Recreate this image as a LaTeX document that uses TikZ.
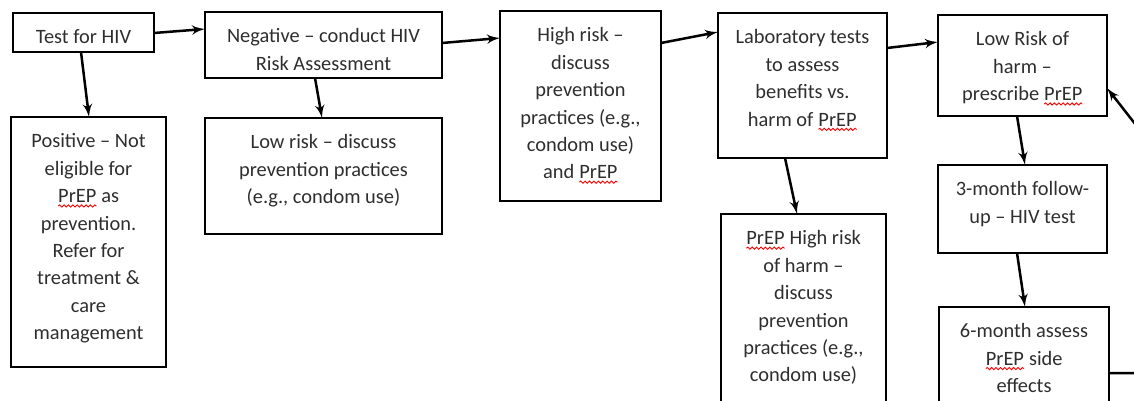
\documentclass[tikz,border=0pt]{standalone}
\usepackage{fontspec}
\setmainfont{Carlito}
\usetikzlibrary{arrows,decorations.pathmorphing}

\newcommand{\boxtext}[3]{\parbox[c][#2][t]{#1}{\centering\vspace*{5.9pt}\strut#3}}
\newcommand{\squig}[1]{\tikz[baseline=(sq.base)]{\node[draw=none,anchor=base,inner sep=0pt,outer sep=0pt] (sq) at (0,0) {#1};
  \draw[red,line width=0.45pt,decorate,decoration={snake,amplitude=0.55pt,segment length=2.2pt}] ([yshift=-1.6pt]sq.base west) -- ([yshift=-1.6pt]sq.base east);}}

\begin{document}
\begin{tikzpicture}[>=latex',x=0.5pt,y=-0.5pt,
  box/.style={draw,line width=1pt,anchor=north west,inner sep=0pt,outer sep=0pt,
    text=black!82,font=\fontsize{10.2}{13.7}\selectfont}]
\useasboundingbox (0,0) rectangle (1134,401);
\clip (0,0) rectangle (1134,401);
  \node[box] (test) at (13,13)   {\boxtext{70.5pt}{19.5pt}{Test for HIV}};
  \node[box] (neg)  at (205,12)  {\boxtext{118.5pt}{33pt}{Negative -- conduct HIV\\Risk Assessment}};
  \node[box] (pos)  at (11,117)  {\boxtext{77.5pt}{125pt}{Positive -- Not\\eligible for\\\squig{PrEP} as\\prevention.\\Refer for\\treatment \&\\care\\management}};
  \node[box] (low)  at (205,118) {\boxtext{118.5pt}{58pt}{Low risk -- discuss\\prevention practices\\(e.g., condom use)}};
  \node[box] (high) at (500,11)  {\boxtext{80.5pt}{95pt}{High risk --\\discuss\\prevention\\practices (e.g.,\\condom use)\\and \squig{PrEP}}};
  \node[box] (lab)  at (718,13)  {\boxtext{84.5pt}{72.5pt}{Laboratory tests\\to assess\\benefits vs.\\harm of \squig{PrEP}}};
  \node[box] (harm) at (721,214) {\boxtext{82.5pt}{100pt}{\squig{PrEP} High risk\\of harm --\\discuss\\prevention\\practices (e.g.,\\condom use)}};
  \node[box] (lowh) at (938,15)  {\boxtext{84.5pt}{50.5pt}{Low Risk of\\harm --\\prescribe \squig{PrEP}}};
  \node[box] (m3)   at (938,165) {\boxtext{84.5pt}{44pt}{3-month follow-\\up -- HIV test}};
  \node[box] (m6)   at (939,307) {\boxtext{85pt}{60pt}{6-month assess\\\squig{PrEP} side\\effects}};
  \coordinate (r1) at (1150,373);
  \coordinate (r2) at (1150,143);
\tikzset{link/.style={->,line width=1.25pt}}
\path ([shift={(0,20)}]test.north east) edge [link] ([shift={(0,17)}]neg.north west)
      ([shift={(0,31)}]neg.north east)  edge [link] ([shift={(0,27)}]high.north west)
      ([shift={(0,32)}]high.north east) edge [link] ([shift={(0,19)}]lab.north west)
      ([shift={(0,35)}]lab.north east)  edge [link] ([shift={(0,27)}]lowh.north west);
\path ([shift={(68,0)}]test.south west) edge [link] ([shift={(78,0)}]pos.north west)
      ([shift={(110,0)}]neg.south west) edge [link] ([shift={(117,0)}]low.north west)
      ([shift={(67,0)}]lab.south west)  edge [link] ([shift={(76,0)}]harm.north west)
      ([shift={(79,0)}]lowh.south west) edge [link] ([shift={(87,0)}]m3.north west)
      ([shift={(79,0)}]m3.south west)   edge [link] ([shift={(86,0)}]m6.north west);
\draw[link] ([shift={(0,66)}]m6.north east) -- (r1) -- (r2) -- ([shift={(0,73)}]lowh.north east);
\end{tikzpicture}
\end{document}
